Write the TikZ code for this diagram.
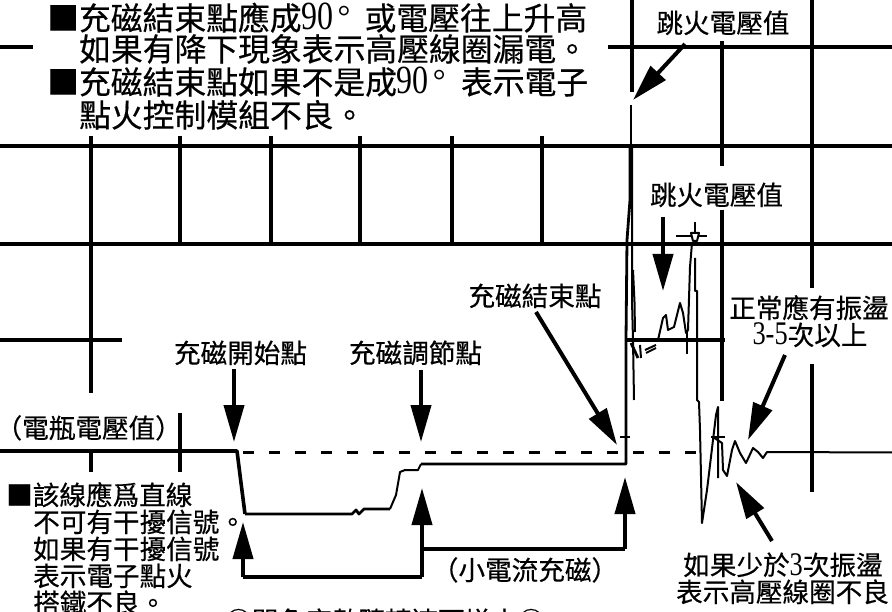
\documentclass[tikz,border=0pt]{standalone}
\usepackage{fontspec}
\usepackage{graphicx}
\setmainfont[FakeBold=0.45]{Noto Sans CJK TC}
\newfontfamily\latinnum{Liberation Serif}
\usetikzlibrary{arrows.meta}
\newcommand{\ninety}[1]{\makebox[#1][l]{\scalebox{0.8}[1]{\fontsize{40pt}{40pt}\selectfont\latinnum 90}\hspace{4pt}\raisebox{2pt}{\fontsize{32pt}{32pt}\selectfont\latinnum °}}}
\newcommand{\tallnum}[1]{\scalebox{0.8}[1]{\fontsize{33pt}{33pt}\selectfont\latinnum #1}}
\tikzset{
  x=1pt,y=-1pt,
  gridline/.style={line width=4pt,black},
  batt/.style={line width=3.6pt,black,line join=round},
  fineline/.style={line width=2pt,black,line join=round},
  midline/.style={line width=2.8pt,black,line join=round},
  dashline/.style={line width=2.3pt,black,dash pattern=on 11pt off 15pt},
  bigarrow/.style={line width=4pt,black,-{Triangle[length=37pt,width=20pt]}},
  bracket/.style={line width=4pt,black,line join=miter},
  bigtext/.style={anchor=base west,inner sep=0pt,font=\fontsize{31.8pt}{32pt}\selectfont},
  smalltext/.style={anchor=base west,inner sep=0pt,font=\fontsize{26.6pt}{27pt}\selectfont},
  midtext/.style={anchor=base,inner sep=0pt,font=\fontsize{26.6pt}{27pt}\selectfont},
}
\begin{document}
\begin{tikzpicture}
\useasboundingbox (0,0) rectangle (892,612);
\clip (0,0) rectangle (892,612);
\fill[white] (0,0) rectangle (892,612);

% grid
\draw[gridline] (0,47) -- (33,47);
\draw[gridline] (608,47) -- (892,47);
\draw[gridline] (0,146) -- (892,146);
\draw[gridline] (0,244) -- (892,244);
\draw[gridline] (0,340) -- (122,340);
\draw[gridline] (625,340) -- (725,340);
\draw[gridline] (91,136) -- (91,393);
\draw[gridline] (91,452) -- (91,472);
\draw[gridline] (180,136) -- (180,246);
\draw[gridline] (180,413) -- (180,472);
\draw[gridline] (270.5,136) -- (270.5,246);
\draw[gridline] (360,136) -- (360,246);
\draw[gridline] (452,136) -- (452,246);
\draw[gridline] (542,136) -- (542,246);
\draw[gridline] (632,0) -- (632,92);
\draw[gridline] (722,41) -- (722,166);
\draw[gridline] (722,210) -- (722,401);
\draw[gridline] (812,0) -- (812,288);
\draw[gridline] (812,364) -- (812,492);

% trace
\draw[batt] (0,451) -- (237,451) -- (240,475) -- (245,514);
\draw[midline] (245,514) -- (352,514) -- (356,510) -- (359,514) -- (364,509) -- (390,509);
\draw[fineline] (390,509) -- (396,495) -- (400,472) -- (405,470) -- (418,470) -- (421,464);
\draw[midline] (421,464) -- (626,464) -- (626,340) -- (627,240) -- (630,200) -- (630,146);
\draw[midline] (631,146) -- (631,105);
\draw[fineline] (632,146) -- (632,300) -- (633,340) -- (634,400);
\draw[dashline] (243,452.5) -- (698,452.5);
\draw[fineline] (635,332) -- (634.5,302) -- (633,270);
\draw[fineline] (658,340) -- (663,318) -- (666,315) -- (668,330) -- (674,327) -- (680,303) -- (683,313) -- (686,333) -- (688,330) -- (690,267) -- (692,243);
\draw[fineline] (687,330) -- (687,354);
\draw[fineline] (695,258) -- (695,291) -- (697,291) -- (697,400) -- (699,402) -- (700,430) -- (702,523) -- (707,490) -- (713,440) -- (716,415) -- (718,407) -- (718,478);
\draw[fineline] (713,437) -- (722,443) -- (723,470) -- (727,476) -- (732,450) -- (735,441) -- (740,453) -- (746,463) -- (753,448) -- (758,452) -- (763,458) -- (767,452) -- (892,452.5);
\draw[fineline] (676,236) -- (707,236);
\draw[fineline] (695,222) -- (695,234);
\draw[fineline,fill=white] (691,233) -- (699,233) -- (697,241) -- (693,241) -- cycle;
\draw[fineline] (620,437) -- (630,437);
\draw[fineline] (711,437) -- (725,437);
\draw[midline] (631,343) -- (638,358);
\draw[fineline] (640,345) -- (641,358);
\draw[fineline] (645,350) -- (656,345);
\draw[fineline] (646,353) -- (656,348);

% labels
\node[bigtext] (tOne) at (47,30) {■充磁結束點應成\ninety{63pt}或電壓往上升高};
\node[bigtext] (tTwo) at (79,61) {如果有降下現象表示高壓線圈漏電。};
\node[bigtext] (tThree) at (47,94) {■充磁結束點如果不是成\ninety{64pt}表示電子};
\node[bigtext] (tFour) at (79,127) {點火控制模組不良。};
\node[midtext] (sparkA) at (723,33) {跳火電壓值};
\node[midtext] (sparkB) at (716.5,205) {跳火電壓值};
\node[midtext] (endpt) at (535,306) {充磁結束點};
\node[midtext] (startpt) at (240.5,363) {充磁開始點};
\node[midtext] (regpt) at (415.5,363) {充磁調節點};
\node[smalltext] (battv) at (2,438) {\makebox[20pt][r]{（}電瓶電壓值）};
\node[midtext] (normA) at (809,318) {正常應有振盪};
\node[midtext] (normB) at (810,345) {\tallnum{3-5}次以上};
\node[midtext] (smallc) at (525,580) {（小電流充磁）};
\node[midtext] (fewA) at (783,575) {如果少於\tallnum{3}次振盪};
\node[midtext] (fewB) at (782.5,602) {表示高壓線圈不良};
\node[smalltext] (lineA) at (6,505) {■該線應爲直線};
\node[smalltext] (lineB) at (33,532) {不可有干擾信號。};
\node[smalltext] (lineC) at (33,559) {如果有干擾信號};
\node[smalltext] (lineD) at (33,586) {表示電子點火};
\node[smalltext] (lineE) at (33,613) {搭鐵不良。};
\node[smalltext] (bottomnote) at (225,631) {◎閉角度數隨轉速而增大◎};

% arrows
\coordinate (aS) at (685,44);  \coordinate (aE) at (633,100);
\coordinate (bS) at (663,217); \coordinate (bE) at (663,291);
\coordinate (cS) at (234,369); \coordinate (cE) at (234,442);
\coordinate (dS) at (421,370); \coordinate (dE) at (421,442);
\coordinate (eS) at (536,312); \coordinate (eE) at (617,445);
\coordinate (fS) at (785,355); \coordinate (fE) at (748,440);
\coordinate (gS) at (772,541); \coordinate (gE) at (736,482);
\coordinate (hL) at (243,577); \coordinate (hT) at (243,522);
\coordinate (hR) at (422,577); \coordinate (hU) at (422,488);
\coordinate (iL) at (422,549); \coordinate (iC) at (625,549); \coordinate (iT) at (625,477);
\draw[bigarrow] (aS) -- (aE);
\draw[bigarrow] (bS) -- (bE);
\draw[bigarrow] (cS) -- (cE);
\draw[bigarrow] (dS) -- (dE);
\draw[bigarrow] (eS) -- (eE);
\draw[bigarrow] (fS) -- (fE);
\draw[bigarrow] (gS) -- (gE);
\draw[bracket] (hR) -- (hL);
\draw[bigarrow] (hL) -- (hT);
\draw[bigarrow] (hR) -- (hU);
\draw[bracket] (iL) -- (iC);
\draw[bigarrow] (iC) -- (iT);
\end{tikzpicture}
\end{document}
